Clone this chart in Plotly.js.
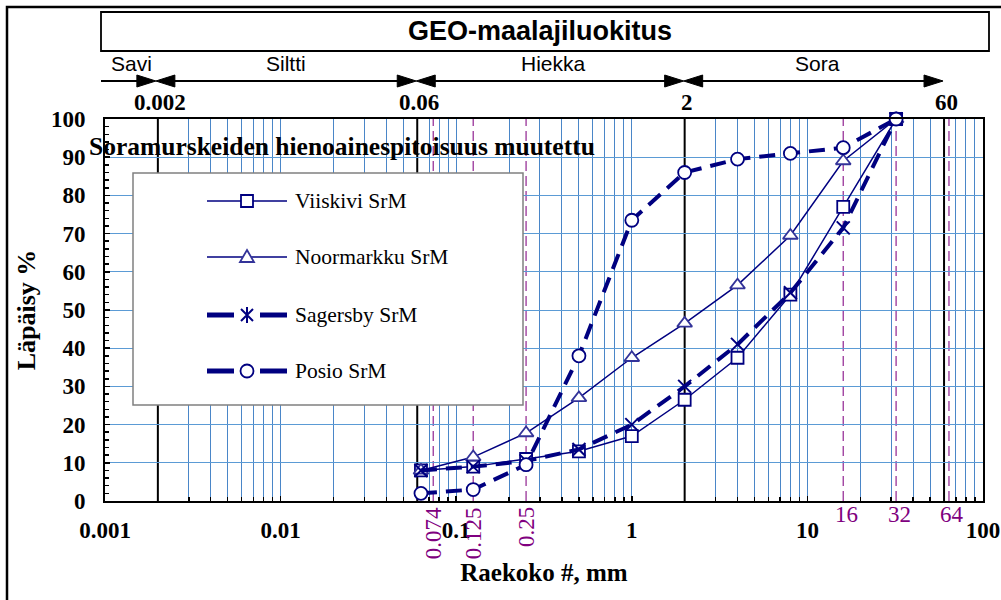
<!DOCTYPE html>
<html><head><meta charset="utf-8">
<script src="https://cdn.plot.ly/plotly-3.0.1.min.js"></script>
<style>body{margin:0;background:#fff}#c{width:1001px;height:600px}</style>
</head><body><div id="c"></div>
<script>
// ---- data ----
const sieve = [0.063, 0.125, 0.25, 0.5, 1, 2, 4, 8, 16, 32];
const viiskivi   = [8, 9, 11, 13, 17, 26.5, 37.5, 54, 77, 100];
const noormarkku = [8, 11.5, 17.8, 27, 37.5, 46.5, 56.5, 69.5, 89, 100];
const sagersby   = [8, 9, 10.5, 13.5, 20, 30, 41, 54.5, 71.5, 100];
const posio      = [2, 3, 9.5, 38, 73.5, 86, 89.5, 91, 92.5, 100];
const seriesNames = ['Viiskivi SrM', 'Noormarkku SrM', 'Sagersby SrM', 'Posio SrM'];
const xTickVals = [0.001, 0.01, 0.1, 1, 10, 100];
const xTickText = ['0.001', '0.01', '0.1', '1', '10', '100'];
const classNames = ['Savi', 'Siltti', 'Hiekka', 'Sora'];
const classBounds = [0.002, 0.06, 2, 60];
const classBoundLabels = ['0.002', '0.06', '2', '60'];
const sieveMarks = [0.074, 0.125, 0.25, 16, 32, 64];
const sieveMarkLabels = ['0.074', '0.125', '0.25', '16', '32', '64'];

// ---- geometry helpers (pixel -> paper) ----
const L = 105, R = 983, T = 119, B = 501;
const px = x => (x - L) / (R - L);
const py = y => (B - y) / (B - T);
const xpix = v => L + (Math.log10(v) + 3) / 5 * (R - L);

const navy = '#000080';
const purple = '#993399';
const grid = '#4a86c8';
const serif = 'Liberation Serif';
const sans = 'Liberation Sans';

// minor grid positions on log axis (class boundaries get a black line instead)
const minorVals = [];
for (let e = -3; e < 2; e++) for (let d = 2; d <= 9; d++) {
  const v = d * Math.pow(10, e);
  if (!classBounds.some(b => Math.abs(b - v) / b < 1e-9)) minorVals.push(v);
}

const traces = [
  {x: sieve, y: viiskivi, name: seriesNames[0], mode: 'lines+markers', cliponaxis: false,
   line: {color: navy, width: 1.5},
   marker: {symbol: 'square', size: 12, color: '#fff', line: {color: navy, width: 1.8}}},
  {x: sieve, y: noormarkku, name: seriesNames[1], mode: 'lines+markers', cliponaxis: false,
   line: {color: navy, width: 1.5},
   marker: {symbol: 'triangle-up', size: 13, color: '#fff', line: {color: '#333399', width: 1.8}}},
  {x: sieve, y: sagersby, name: seriesNames[2], mode: 'lines+markers', cliponaxis: false,
   line: {color: navy, width: 4, dash: '16px,9px'},
   marker: {symbol: 'x-thin-open', size: 13, color: navy, line: {color: navy, width: 2}}},
  {x: sieve, y: posio, name: seriesNames[3], mode: 'lines+markers', cliponaxis: false,
   line: {color: navy, width: 4, dash: '16px,9px'},
   marker: {symbol: 'circle', size: 13, color: '#fff', line: {color: navy, width: 1.8}}}
];

const shapes = [];
const ann = [];
const A = (o) => Object.assign({xref: 'paper', yref: 'paper', showarrow: false, xanchor: 'center', yanchor: 'middle'}, o);

// outer frame
shapes.push({type: 'rect', xref: 'paper', yref: 'paper', x0: px(7), x1: px(1012), y0: py(7), y1: py(612),
  line: {color: '#000', width: 2.5}, layer: 'below'});
// GEO box
shapes.push({type: 'rect', xref: 'paper', yref: 'paper', x0: px(101), x1: px(989), y0: py(12), y1: py(51),
  line: {color: '#000', width: 1.8}, fillcolor: '#fff', layer: 'above'});
ann.push(A({x: px(540), y: py(31), text: '<b>GEO-maalajiluokitus</b>',
  font: {family: sans, size: 27, color: '#000'}}));

// classification arrows
const AY = 81, AH = 6, AL = 19;
const bpx = classBounds.map(xpix);
const segs = [[101, bpx[0] - 2, false], [bpx[0] - 2, bpx[1] - 1, true], [bpx[1] - 1, bpx[2] - 1, true], [bpx[2] - 1, bpx[3] - 1, true]];
const labelX = [131, 286, 553, 817];
segs.forEach((s, i) => {
  const [a, b, leftHead] = s;
  shapes.push({type: 'line', xref: 'paper', yref: 'paper', x0: px(a + (leftHead ? 6 : 0)), x1: px(b - 6), y0: py(AY), y1: py(AY),
    line: {color: '#000', width: 2}, layer: 'above'});
  shapes.push({type: 'path', xref: 'paper', yref: 'paper', layer: 'above',
    path: `M${px(b)},${py(AY)} L${px(b - AL)},${py(AY - AH)} L${px(b - AL)},${py(AY + AH)} Z`,
    fillcolor: '#000', line: {color: '#000', width: 1}});
  if (leftHead) {
    shapes.push({type: 'path', xref: 'paper', yref: 'paper', layer: 'above',
      path: `M${px(a)},${py(AY)} L${px(a + AL)},${py(AY - AH)} L${px(a + AL)},${py(AY + AH)} Z`,
      fillcolor: '#000', line: {color: '#000', width: 1}});
  }
  ann.push(A({x: px(labelX[i]), y: py(63), text: classNames[i],
    font: {family: sans, size: 21, color: '#000'}}));
});
classBounds.forEach((v, i) => {
  ann.push(A({x: px(xpix(v) + 2), y: py(103), text: '<b>' + classBoundLabels[i] + '</b>',
    font: {family: serif, size: 23, color: '#000'}}));
});

// vertical black class lines (above grid, below traces)
classBounds.forEach(v => {
  shapes.push({type: 'line', xref: 'x', yref: 'paper', x0: v, x1: v, y0: 0, y1: 1,
    line: {color: '#000', width: 2}, layer: 'between'});
});
// purple sieve lines
sieveMarks.forEach((v, i) => {
  shapes.push({type: 'line', xref: 'x', yref: 'paper', x0: v, x1: v, y0: 0, y1: 1,
    line: {color: purple, width: 1.3, dash: '10px,5px'}, layer: 'between'});
  if (v < 1) {
    ann.push(A({x: px(xpix(v)), y: py(505), yanchor: 'top', text: sieveMarkLabels[i],
      textangle: -90, font: {family: serif, size: 23, color: '#800080'}}));
  } else {
    ann.push(A({x: px(xpix(v) + 3), y: py(514), text: sieveMarkLabels[i],
      font: {family: serif, size: 23, color: '#800080'}}));
  }
});

// chart title
ann.push(A({x: px(87), y: py(146), xanchor: 'left',
  text: '<b>Soramurskeiden hienoainespitoisuus muutettu</b>',
  font: {family: serif, size: 25.5, color: '#000'}}));

// manual legend
shapes.push({type: 'rect', xref: 'paper', yref: 'paper', x0: px(133), x1: px(523), y0: py(173), y1: py(405),
  fillcolor: '#fff', line: {color: '#808080', width: 1.5}, layer: 'above'});
const legY = [201, 257, 315, 371];
const lx0 = 207, lx1 = 287, mx = 247;
legY.forEach((y, i) => {
  const thick = i >= 2;
  if (thick) {
    shapes.push({type: 'line', xref: 'paper', yref: 'paper', x0: px(lx0), x1: px(mx - 13), y0: py(y), y1: py(y), line: {color: navy, width: 5}, layer: 'above'});
    shapes.push({type: 'line', xref: 'paper', yref: 'paper', x0: px(mx + 13), x1: px(lx1), y0: py(y), y1: py(y), line: {color: navy, width: 5}, layer: 'above'});
  } else {
    shapes.push({type: 'line', xref: 'paper', yref: 'paper', x0: px(lx0), x1: px(lx1), y0: py(y), y1: py(y), line: {color: navy, width: 1.5}, layer: 'above'});
  }
  const s = 6;
  if (i === 0) {
    shapes.push({type: 'rect', xref: 'paper', yref: 'paper', x0: px(mx - s), x1: px(mx + s), y0: py(y - s), y1: py(y + s), fillcolor: '#fff', line: {color: navy, width: 1.8}, layer: 'above'});
  } else if (i === 1) {
    shapes.push({type: 'path', xref: 'paper', yref: 'paper', layer: 'above', fillcolor: '#fff', line: {color: '#333399', width: 1.8},
      path: `M${px(mx)},${py(y - 7)} L${px(mx + 7)},${py(y + 5)} L${px(mx - 7)},${py(y + 5)} Z`});
  } else if (i === 2) {
    shapes.push({type: 'path', xref: 'paper', yref: 'paper', layer: 'above', line: {color: navy, width: 2},
      path: `M${px(mx - 6)},${py(y - 6)} L${px(mx + 6)},${py(y + 6)} M${px(mx + 6)},${py(y - 6)} L${px(mx - 6)},${py(y + 6)} M${px(mx)},${py(y - 8)} L${px(mx)},${py(y + 8)}`});
  } else {
    shapes.push({type: 'circle', xref: 'paper', yref: 'paper', x0: px(mx - 6.5), x1: px(mx + 6.5), y0: py(y - 6.5), y1: py(y + 6.5), fillcolor: '#fff', line: {color: navy, width: 1.8}, layer: 'above'});
  }
  ann.push(A({x: px(293), y: py(y), xanchor: 'left', text: seriesNames[i],
    font: {family: serif, size: 21.5, color: '#000'}}));
});

const layout = {
  width: 1001, height: 600,
  margin: {l: L, r: 1001 - R, t: T, b: 600 - B},
  paper_bgcolor: '#fff', plot_bgcolor: '#fff',
  showlegend: false,
  xaxis: {
    type: 'log', range: [-3, 2], tickmode: 'array', tickvals: xTickVals, ticktext: xTickText,
    showgrid: true, gridcolor: grid, gridwidth: 1,
    showline: true, linecolor: '#000', linewidth: 2, mirror: true,
    ticks: 'inside', ticklen: 5, tickcolor: '#000', tickwidth: 1.5,
    minor: {tickmode: 'array', tickvals: minorVals, showgrid: true, gridcolor: grid, gridwidth: 1, ticks: 'inside', ticklen: 4, tickcolor: '#000'},
    tickfont: {family: serif, size: 23, color: '#000', weight: 'bold'},
    ticklabelstandoff: 7,
    zeroline: false,
    title: {text: '<b>Raekoko #, mm</b>', font: {family: serif, size: 25, color: '#000'}, standoff: 22}
  },
  yaxis: {
    range: [0, 100], dtick: 10, tick0: 0,
    showgrid: true, gridcolor: '#5b9bd5', gridwidth: 1,
    showline: true, linecolor: '#000', linewidth: 2, mirror: true,
    ticks: 'inside', ticklen: 5, tickcolor: '#000', tickwidth: 1.5,
    minor: {dtick: 2, ticks: 'inside', ticklen: 4, tickcolor: '#000', showgrid: false},
    tickfont: {family: serif, size: 23, color: '#000', weight: 'bold'},
    ticklabelstandoff: 13,
    zeroline: false,
    title: {text: '<b>Läpäisy %</b>', font: {family: serif, size: 26, color: '#000'}, standoff: 8}
  },
  shapes: shapes,
  annotations: ann
};

Plotly.newPlot('c', traces, layout, {displayModeBar: false, staticPlot: true});
</script></body></html>
